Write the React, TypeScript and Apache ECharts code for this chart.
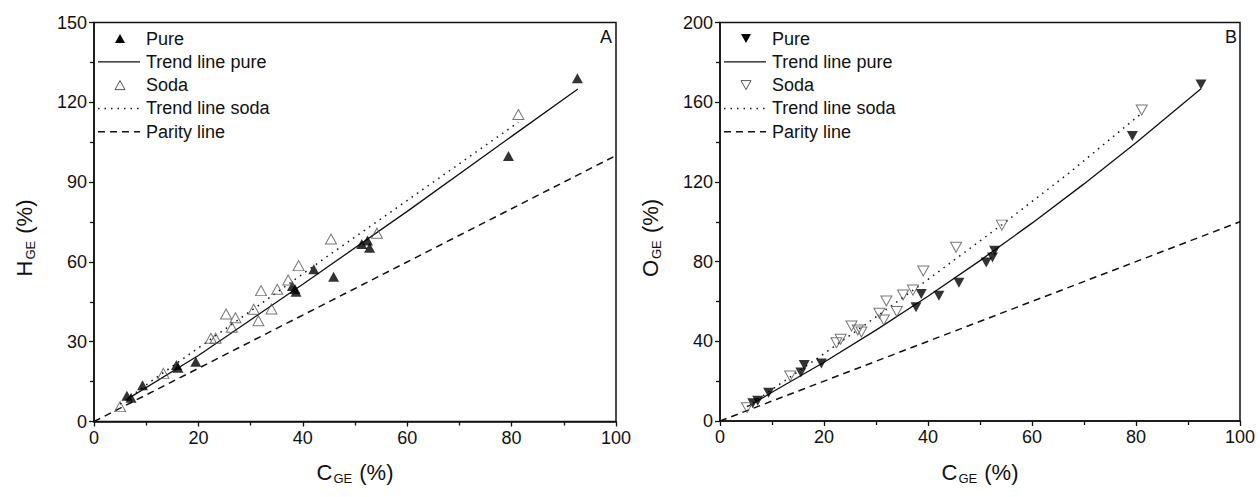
import React, { useEffect, useRef } from "react";
import * as echarts from "echarts";

// ---- Data ----
// Panel A: H_GE vs C_GE
const hPure: [number, number][] = [
  [6.3, 9.7], [7.1, 8.9], [9.3, 13.6], [15.8, 21.2], [16.1, 20.2], [19.5, 22.5],
  [38.0, 50.9], [38.5, 49.8], [38.7, 48.8], [42.1, 57.2], [45.9, 54.4],
  [51.3, 66.7], [52.4, 68.0], [52.8, 65.3], [79.4, 99.8], [92.6, 129.0],
];
const hSoda: [number, number][] = [
  [5.0, 5.6], [13.3, 18.1], [22.4, 31.3], [23.3, 31.3], [25.3, 40.4], [27.1, 39.0],
  [26.4, 35.4], [30.6, 42.2], [31.5, 37.9], [32.0, 49.2], [35.1, 49.7], [34.0, 42.3],
  [37.2, 53.2], [39.2, 58.6], [45.4, 68.6], [54.2, 70.8], [81.3, 115.4],
];
const hTrendPure: [number, number][] = [
  [6.3, 8.3], [20, 24.8], [40, 51.6], [60, 79.0], [80, 107.2], [92.7, 125.0],
];
const hTrendSoda: [number, number][] = [
  [5.0, 6.5], [11, 15.2], [30, 41.5], [45, 62.5], [55, 76.2], [81.3, 112.5],
];
// Panel B: O_GE vs C_GE
const oPure: [number, number][] = [
  [6.3, 8.9], [7.25, 10.2], [9.35, 14.2], [15.55, 24.4], [16.2, 28.1], [19.5, 28.9],
  [37.7, 57.1], [38.7, 63.7], [42.1, 62.9], [45.95, 69.4], [51.2, 79.6], [52.4, 82.1],
  [52.8, 85.5], [79.3, 143.0], [92.5, 168.9],
];
const oSoda: [number, number][] = [
  [5.2, 6.7], [13.5, 22.6], [22.4, 39.3], [23.2, 41.0], [25.3, 47.7], [26.5, 45.7],
  [27.2, 44.7], [30.65, 54.1], [31.5, 50.7], [32.0, 60.2], [34.0, 55.0], [35.2, 63.2],
  [37.1, 65.7], [39.1, 75.3], [45.4, 87.2], [54.2, 98.3], [81.1, 156.1],
];
const oTrendPure: [number, number][] = [
  [5.4, 7.4], [10, 14.4], [20, 29.5], [30, 45.6], [40, 62.6], [50, 80.5],
  [60, 99.3], [70, 119.0], [80, 139.6], [92.5, 166.8],
];
const oTrendSoda: [number, number][] = [
  [5.2, 7.2], [18.8, 31.6], [28.6, 49.6], [40.4, 71.8], [54.2, 98.5], [67, 124.2], [81.1, 154.5],
];
const parityLine: [number, number][] = [[0, 0], [100, 100]];

const xTicks = { min: 0, max: 100, interval: 20 };
const hTicks = { min: 0, max: 150, interval: 30 };
const oTicks = { min: 0, max: 200, interval: 40 };
const legendNames = ["Pure", "Trend line pure", "Soda", "Trend line soda", "Parity line"];
const panelLabels = ["A", "B"];
const axisTitles = { x: "C", yA: "H", yB: "O", sub: "GE", unit: " (%)" };

const FONT = "'Liberation Sans', Arial, Helvetica, sans-serif";
const INK = "#111";
const SODA_INK = "#555";

function axisCommon() {
  return {
    axisLine: { onZero: false, lineStyle: { color: INK, width: 1.5 } },
    axisTick: { show: true, inside: false, length: 5, lineStyle: { color: INK, width: 1.3 } },
    minorTick: { show: true, splitNumber: 2, length: 4, lineStyle: { color: INK, width: 1.3 } },
    splitLine: { show: false },
    minorSplitLine: { show: false },
    axisLabel: { color: INK, fontSize: 18, fontFamily: FONT, margin: 7 },
  };
}

const titleRich = {
  a: { fontSize: 22, fontFamily: FONT, fill: INK, color: INK },
  s: { fontSize: 13, fontFamily: FONT, fill: INK, color: INK, padding: [13, 1, 0, 1] },
};

function axisTitle(main: string, x: number, y: number, rotate: boolean) {
  return {
    type: "text",
    x,
    y,
    rotation: rotate ? Math.PI / 2 : 0,
    style: {
      text: `{a|${main}}{s|${axisTitles.sub}}{a|${axisTitles.unit}}`,
      rich: titleRich,
      align: "center",
      verticalAlign: "middle",
      fill: INK,
    },
  };
}

function legendGraphic(left: number, down: boolean) {
  const rows = [38.5, 61.8, 85.1, 108.4, 131.7];
  const mx = left + 26;
  const tx = left + 52;
  const l0 = left + 4;
  const l1 = left + 46;
  const tri = (cy: number) =>
    down
      ? [[mx - 5, cy - 4.5], [mx + 5, cy - 4.5], [mx, cy + 4.5]]
      : [[mx - 5, cy + 4.5], [mx + 5, cy + 4.5], [mx, cy - 4.5]];
  const els: any[] = [
    { type: "polygon", shape: { points: tri(rows[0]) }, style: { fill: "#000" } },
    { type: "line", shape: { x1: l0, y1: rows[1], x2: l1, y2: rows[1] }, style: { stroke: INK, lineWidth: 1.3 } },
    {
      type: "polygon",
      shape: { points: tri(rows[2]) },
      style: { fill: "rgba(0,0,0,0)", stroke: SODA_INK, lineWidth: 1 },
    },
    {
      type: "line",
      shape: { x1: l0, y1: rows[3], x2: l1, y2: rows[3] },
      style: { stroke: INK, lineWidth: 1.5, lineDash: [1.5, 5] },
    },
    {
      type: "line",
      shape: { x1: l0, y1: rows[4], x2: l1, y2: rows[4] },
      style: { stroke: INK, lineWidth: 1.5, lineDash: [7, 5] },
    },
  ];
  legendNames.forEach((n, i) => {
    els.push({
      type: "text",
      x: tx,
      y: rows[i],
      style: { text: n, fill: INK, fontSize: 18, fontFamily: FONT, verticalAlign: "middle", align: "left" },
    });
  });
  return els;
}

export default function App() {
  const ref = useRef<HTMLDivElement>(null);
  useEffect(() => {
    if (!ref.current) return;
    const chart = echarts.init(ref.current, undefined, { renderer: "svg" });
    const grids = [
      { left: 94, top: 22.5, width: 522, height: 399 },
      { left: 720, top: 22.5, width: 520, height: 398.5 },
    ];
    const scatter = (data: [number, number][], idx: number, open: boolean, down: boolean) => ({
      type: "scatter",
      xAxisIndex: idx,
      yAxisIndex: idx,
      data,
      symbol: "triangle",
      symbolSize: [11, 10],
      symbolRotate: down ? 180 : 0,
      z: 3,
      itemStyle: open
        ? { color: "rgba(0,0,0,0)", borderColor: SODA_INK, borderWidth: 1 }
        : { color: "#000" },
    });
    const line = (data: [number, number][], idx: number, type: any, width: number) => ({
      type: "line",
      xAxisIndex: idx,
      yAxisIndex: idx,
      data,
      smooth: false,
      showSymbol: false,
      symbol: "none",
      z: 2,
      lineStyle: { color: INK, width, type },
    });
    const option: any = {
      animation: false,
      backgroundColor: "#fff",
      grid: grids.map((g) => ({ ...g, show: true, borderColor: INK, borderWidth: 1.5, backgroundColor: "transparent" })),
      xAxis: [0, 1].map((i) => ({
        type: "value",
        gridIndex: i,
        ...xTicks,
        ...axisCommon(),
      })),
      yAxis: [0, 1].map((i) => ({
        type: "value",
        gridIndex: i,
        ...(i === 0 ? hTicks : oTicks),
        ...axisCommon(),
      })),
      series: [
        line(parityLine, 0, [7, 5], 1.5),
        line(hTrendPure, 0, "solid", 1.3),
        line(hTrendSoda, 0, [1.5, 5], 1.5),
        scatter(hPure, 0, false, false),
        scatter(hSoda, 0, true, false),
        line(parityLine, 1, [7, 5], 1.5),
        line(oTrendPure, 1, "solid", 1.3),
        line(oTrendSoda, 1, [1.5, 5], 1.5),
        scatter(oPure, 1, false, true),
        scatter(oSoda, 1, true, true),
      ],
      graphic: [
        ...legendGraphic(94, false),
        ...legendGraphic(720, true),
        axisTitle(axisTitles.x, 355, 472, false),
        axisTitle(axisTitles.x, 980, 472, false),
        axisTitle(axisTitles.yA, 24, 238, true),
        axisTitle(axisTitles.yB, 650, 238, true),
        {
          type: "text",
          x: 612,
          y: 37,
          style: { text: panelLabels[0], fill: INK, fontSize: 18, fontFamily: FONT, align: "right", verticalAlign: "middle" },
        },
        {
          type: "text",
          x: 1237,
          y: 37,
          style: { text: panelLabels[1], fill: INK, fontSize: 18, fontFamily: FONT, align: "right", verticalAlign: "middle" },
        },
      ],
    };
    chart.setOption(option);
    return () => chart.dispose();
  }, []);
  return (
    <div
      ref={ref}
      style={{ position: "fixed", left: 0, top: 0, width: 1260, height: 497, background: "#fff" }}
    />
  );
}
